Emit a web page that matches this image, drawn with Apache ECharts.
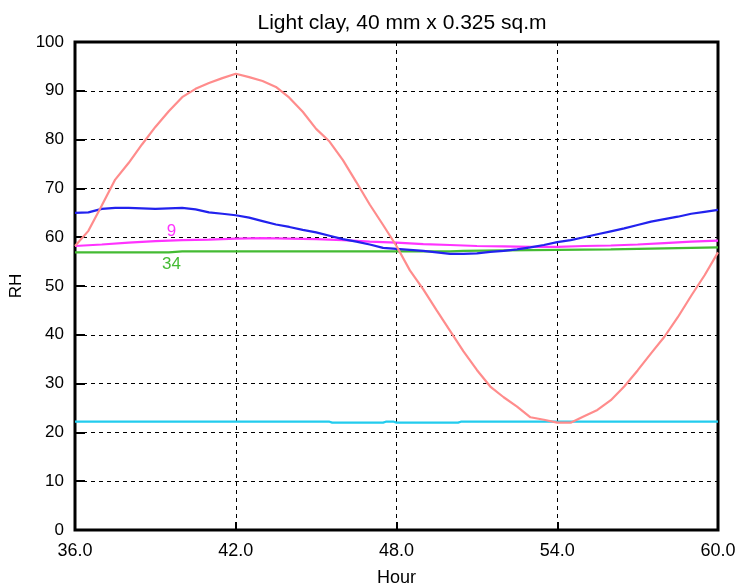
<!DOCTYPE html>
<html>
<head>
<meta charset="utf-8">
<script src="https://cdn.jsdelivr.net/npm/echarts@6/dist/echarts.min.js"></script>
<style>
    html, body {margin: 0; padding: 0; background: #fff;}
    #chart {width: 741px; height: 587px;}
</style>
</head>
<body>
<div id="chart"></div>
<script>
// 时间 (小时)
const xTicks = [36, 42, 48, 54, 60];
const yTicks = [0, 10, 20, 30, 40, 50, 60, 70, 80, 90, 100];

// 外部 RH
const redHours = [36, 36.5, 37, 37.5, 38, 38.5, 39, 39.5, 40, 40.5, 41, 41.5, 42, 42.5, 43, 43.5, 44, 44.5, 45, 45.5, 46, 46.5, 47, 47.5, 48, 48.5, 49, 49.5, 50, 50.5, 51, 51.5, 52, 52.5, 53, 53.5, 54, 54.5, 55, 55.5, 56, 56.5, 57, 57.5, 58, 58.5, 59, 59.5, 60];
const redRH = [58.2, 61.3, 66.5, 71.8, 75.2, 79.0, 82.6, 85.8, 88.7, 90.4, 91.6, 92.6, 93.5, 92.8, 92.0, 90.8, 88.6, 85.7, 82.2, 79.6, 75.8, 71.3, 66.7, 62.5, 58.2, 53.2, 49.3, 45.0, 40.8, 36.6, 32.8, 29.4, 27.2, 25.3, 23.1, 22.6, 22.0, 22.0, 23.3, 24.6, 26.6, 29.4, 32.7, 36.2, 39.6, 43.6, 48.0, 52.2, 56.9];

// 室内 RH
const blueHours = [36, 36.5, 37, 37.5, 38, 38.5, 39, 39.5, 40, 40.5, 41, 41.5, 42, 42.5, 43, 43.5, 44, 44.5, 45, 45.5, 46, 46.5, 47, 47.5, 48, 48.5, 49, 49.5, 50, 50.5, 51, 51.5, 52, 52.5, 53, 53.5, 54, 54.5, 55, 55.5, 56, 56.5, 57, 57.5, 58, 58.5, 59, 59.5, 60];
const blueRH = [65.0, 65.1, 65.8, 66.0, 66.0, 65.9, 65.8, 65.9, 66.0, 65.7, 65.1, 64.8, 64.5, 64.0, 63.3, 62.6, 62.1, 61.5, 61.0, 60.3, 59.6, 59.1, 58.5, 57.8, 57.6, 57.4, 57.2, 56.9, 56.6, 56.6, 56.7, 57.0, 57.2, 57.5, 57.9, 58.4, 59.0, 59.4, 60.0, 60.6, 61.2, 61.8, 62.5, 63.2, 63.7, 64.2, 64.8, 65.2, 65.6];

// 节点 9
const node9Hours = [36, 37, 38, 39, 40, 41, 42, 43, 44, 45, 46, 47, 48, 49, 50, 51, 52, 53, 54, 55, 56, 57, 58, 59, 60];
const node9RH = [58.2, 58.5, 58.9, 59.2, 59.4, 59.5, 59.7, 59.8, 59.7, 59.6, 59.4, 59.1, 58.9, 58.6, 58.4, 58.2, 58.1, 58.0, 58.0, 58.2, 58.3, 58.5, 58.8, 59.1, 59.3];

// 节点 34
const node34Hours = [36, 39.5, 40, 44, 48, 50, 50.5, 52, 54, 56, 58, 60];
const node34RH = [56.9, 56.9, 57.1, 57.1, 57.1, 57.1, 57.2, 57.3, 57.4, 57.5, 57.7, 57.9];

// 青色
const cyanHours = [36, 45.5, 45.6, 47.5, 47.6, 47.9, 48.0, 50.3, 50.4, 60];
const cyanRH = [22.2, 22.2, 22.0, 22.0, 22.2, 22.2, 22.0, 22.0, 22.2, 22.2];

const labelFont = 'Liberation Sans, Arial, sans-serif';

function pairs(xs, ys) {
    let out = [];
    for (let i = 0; i < xs.length; i++) {
        out.push([xs[i], ys[i]]);
    }
    return out;
}

function lineSeries(name, xs, ys, color, extra) {
    return Object.assign({
        name: name,
        type: 'line',
        data: pairs(xs, ys),
        symbol: 'none',
        smooth: false,
        silent: true,
        lineStyle: {color: color, width: 2.2},
        z: 3
    }, extra || {});
}

function nodeLabel(text, coord, color) {
    return {
        symbol: 'circle',
        symbolSize: 0,
        silent: true,
        data: [{
            coord: coord,
            label: {
                show: true,
                formatter: text,
                position: 'inside',
                color: color,
                fontSize: 17,
                fontFamily: labelFont
            }
        }]
    };
}

const chart = echarts.init(document.getElementById('chart'));

chart.setOption({
    animation: false,
    backgroundColor: '#fff',
    title: {
        text: 'Light clay, 40 mm x 0.325 sq.m',
        left: 397,
        top: 8,
        textAlign: 'center',
        textStyle: {fontSize: 21, fontWeight: 'normal', color: '#000', fontFamily: labelFont}
    },
    grid: {
        left: 75, right: 23, top: 42, bottom: 57,
        outerBoundsMode: 'none',
        containLabel: false,
        show: true,
        borderColor: '#000',
        borderWidth: 3,
        backgroundColor: '#fff'
    },
    xAxis: {
        type: 'value',
        min: 36, max: 60, interval: 6,
        name: 'Hour',
        nameLocation: 'middle',
        nameGap: 39,
        nameTextStyle: {fontSize: 18, color: '#000', fontFamily: labelFont},
        axisLine: {show: false},
        axisTick: {show: true, inside: true, length: 8, lineStyle: {color: '#000', width: 2}},
        axisLabel: {
            color: '#000', fontSize: 18, fontFamily: labelFont, margin: 12,
            formatter: (v) => v.toFixed(1)
        },
        splitLine: {show: true, lineStyle: {color: '#000', type: [4, 4], width: 1}}
    },
    yAxis: {
        type: 'value',
        min: 0, max: 100, interval: 10,
        name: 'RH',
        nameLocation: 'middle',
        nameGap: 46,
        nameTextStyle: {fontSize: 17, color: '#000', fontFamily: labelFont},
        axisLine: {show: false},
        axisTick: {show: true, inside: true, length: 10, lineStyle: {color: '#000', width: 2}},
        axisLabel: {color: '#000', fontSize: 17, fontFamily: labelFont, margin: 11},
        splitLine: {show: true, lineStyle: {color: '#000', type: [4, 4], width: 1}}
    },
    series: [
        lineSeries('cyan', cyanHours, cyanRH, '#22ccee'),
        lineSeries('34', node34Hours, node34RH, '#44bb33', {markPoint: nodeLabel('34', [39.6, 54.5], '#44bb33')}),
        lineSeries('9', node9Hours, node9RH, '#ff33ff', {markPoint: nodeLabel('9', [39.6, 61.3], '#ff33ff')}),
        lineSeries('inside', blueHours, blueRH, '#2222ee'),
        lineSeries('outside', redHours, redRH, '#ff8c8c')
    ]
});
</script>
</body>
</html>
